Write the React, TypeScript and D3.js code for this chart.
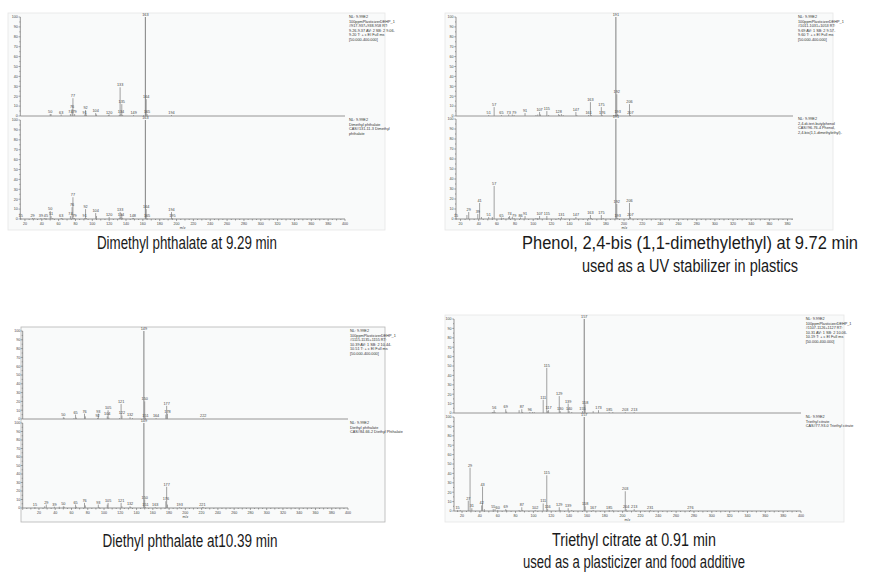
import React from "react";
import * as d3 from "d3";

type Peak = [number, number];

// ---- Dimethyl phthalate (sample / library) ----
const dmpSample: Peak[] = [
  [50, 2], [51, 2], [63, 1.5], [74, 2], [76, 7], [77, 18], [79, 2], [91, 1.5], [92, 6], [93, 1.5],
  [104, 3], [105, 1.5], [119, 1], [120, 1.5], [132, 1], [133, 29], [134, 2], [135, 12], [136, 1],
  [149, 1], [161, 1], [163, 100], [164, 17], [165, 2], [194, 1],
];
const dmpLibrary: Peak[] = [
  [15, 1], [29, 1], [31, 1], [39, 1], [43, 1], [45, 1], [50, 8], [51, 3], [53, 1], [63, 1], [64, 1],
  [74, 3], [76, 12], [77, 22], [78, 1], [79, 1], [91, 1], [92, 10], [93, 1], [104, 6], [105, 3],
  [120, 2], [132, 1], [133, 7], [134, 2], [135, 5], [136, 1], [148, 1], [149, 1], [163, 100],
  [164, 10], [165, 1], [194, 7], [195, 1],
];

// ---- Phenol, 2,4-bis(1,1-dimethylethyl) ----
const phenolSample: Peak[] = [
  [51, 1], [57, 9], [65, 1], [73, 1.5], [77, 1.5], [79, 1], [91, 3], [103, 1], [105, 1.5], [107, 4],
  [108, 1.5], [115, 5], [117, 1], [128, 2], [129, 1], [131, 2], [133, 1], [147, 4], [148, 1],
  [161, 1], [163, 14], [164, 1], [175, 9], [176, 1], [189, 1], [191, 100], [192, 22], [193, 2],
  [206, 12], [207, 1],
];
const phenolLibrary: Peak[] = [
  [15, 1], [27, 4], [29, 7], [39, 5], [41, 16], [43, 2], [51, 2], [55, 2], [57, 33], [65, 1.5],
  [67, 1], [73, 2], [74, 3], [77, 2], [79, 1], [86, 1.5], [91, 3], [103, 1], [105, 1], [107, 3],
  [115, 3], [128, 1], [131, 2], [147, 2], [161, 1], [163, 4], [164, 1], [175, 4], [177, 1],
  [191, 100], [192, 15], [193, 1], [206, 16], [207, 2],
];

// ---- Diethyl phthalate ----
const depSample: Peak[] = [
  [50, 2], [51, 1.5], [63, 1], [65, 5], [66, 1.5], [76, 6], [77, 3], [92, 1], [93, 6], [104, 3],
  [105, 10], [106, 1.5], [119, 1], [121, 17], [122, 4], [132, 2], [135, 1], [149, 100], [150, 20],
  [151, 1.5], [164, 1], [176, 5], [177, 15], [178, 6], [222, 1],
];
const depLibrary: Peak[] = [
  [15, 1], [27, 2], [29, 4], [39, 1.5], [45, 1.5], [50, 2], [51, 1.5], [65, 4], [66, 1.5], [76, 6],
  [77, 3], [93, 4], [94, 1], [104, 4], [105, 6], [121, 6], [122, 2], [132, 2], [133, 1],
  [149, 100], [150, 10], [151, 1], [163, 1], [176, 8], [177, 25], [178, 4], [193, 1], [221, 1],
  [222, 1],
];

// ---- Triethyl citrate ----
const tecSample: Peak[] = [
  [54, 1], [55, 1], [56, 3], [57, 1], [69, 4], [70, 1.5], [84, 3], [87, 4], [88, 1], [96, 1],
  [99, 1], [101, 1], [111, 14], [115, 48], [116, 2], [117, 3], [129, 18], [130, 2], [139, 10],
  [140, 2], [143, 1], [155, 2], [157, 100], [158, 9], [167, 2], [173, 3], [185, 1], [189, 1],
  [203, 1], [213, 1],
];
const tecLibrary: Peak[] = [
  [15, 1], [18, 1], [27, 11], [29, 46], [31, 3], [42, 6], [43, 26], [45, 2], [55, 2], [57, 2],
  [60, 1], [69, 2], [70, 1], [84, 1], [87, 4], [88, 1], [102, 1], [111, 8], [115, 38], [116, 2],
  [129, 4], [130, 1], [139, 3], [143, 1], [157, 100], [158, 5], [167, 1], [185, 1], [189, 1],
  [203, 21], [204, 2], [213, 2], [231, 1], [276, 1],
];

// ---- Header text blocks ----
const dmpSampleInfo = ["NL: 9.99E2", "100ppmPlasticizerDEHP_1", "#917-937+938-958 RT:", "9.26-9.37 AV: 2 SB: 2 9.06-", "9.20 T: + c EI Full ms", "[50.000-400.000]"];
const dmpLibInfo = ["NL: 9.99E2", "Dimethyl phthalate", "CAS#131-11-3 Dimethyl", "phthalate"];
const phenolSampleInfo = ["NL: 9.99E2", "100ppmPlasticizerDEHP_1", "#1011-1031+1053 RT:", "9.69 AV: 1 SB: 2 9.57-", "9.60 T: + c EI Full ms", "[50.000-400.000]"];
const phenolLibInfo = ["NL: 9.99E2", "2,4-di-tert-butylphenol", "CAS#96-76-4 Phenol,", "2,4-bis(1,1-dimethylethyl)-"];
const depSampleInfo = ["NL: 9.99E2", "100ppmPlasticizerDEHP_1", "#1115-1135+1155 RT:", "10.39 AV: 1 SB: 2 10.44-", "10.51 T: + c EI Full ms", "[50.000-400.000]"];
const depLibInfo = ["NL: 9.99E2", "Diethyl phthalate", "CAS#84-66-2 Diethyl Phthalate"];
const tecSampleInfo = ["NL: 9.99E2", "100ppmPlasticizerDEHP_1", "#1107-1126+1127 RT:", "10.31 AV: 1 SB: 2 10.06-", "10.19 T: + c EI Full ms", "[50.000-400.000]"];
const tecLibInfo = ["NL: 9.99E2", "Triethyl citrate", "CAS#77-93-0 Triethyl citrate"];

// ---- Captions ----
const caption1 = ["Dimethyl phthalate at 9.29 min"];
const caption2 = ["Phenol, 2,4-bis (1,1-dimethylethyl) at 9.72 min", "used as a UV stabilizer in plastics"];
const caption3 = ["Diethyl phthalate at10.39 min"];
const caption4 = ["Triethyl citrate at 0.91 min", "used as a plasticizer and food additive"];

const yTicks = [0, 10, 20, 30, 40, 50, 60, 70, 80, 90, 100];

interface PanelCfg {
  bg: { x: number; y: number; w: number; h: number; stroke: string };
  domain: [number, number];
  xRange: [number, number];
  top: [number, number];
  bot: [number, number];
  textX: number;
  sample: Peak[];
  library: Peak[];
  sampleInfo: string[];
  libInfo: string[];
}

const panels: PanelCfg[] = [
  {
    bg: { x: 8, y: 13, w: 377, h: 217, stroke: "#e6e6e6" },
    domain: [14.5, 400], xRange: [20.3, 345], top: [116, 17], bot: [219, 120], textX: 349,
    sample: dmpSample, library: dmpLibrary, sampleInfo: dmpSampleInfo, libInfo: dmpLibInfo,
  },
  {
    bg: { x: 445, y: 13, w: 388, h: 217, stroke: "#e6e6e6" },
    domain: [15, 386], xRange: [456, 793], top: [116, 17], bot: [219, 119], textX: 798,
    sample: phenolSample, library: phenolLibrary, sampleInfo: phenolSampleInfo, libInfo: phenolLibInfo,
  },
  {
    bg: { x: 21, y: 327, w: 364, h: 195, stroke: "#b5b5b5" },
    domain: [0, 400], xRange: [22.7, 348], top: [419, 331], bot: [508, 423], textX: 350,
    sample: depSample, library: depLibrary, sampleInfo: depSampleInfo, libInfo: depLibInfo,
  },
  {
    bg: { x: 445, y: 315, w: 399, h: 207, stroke: "#e6e6e6" },
    domain: [11, 400], xRange: [454, 801], top: [413, 319], bot: [511, 417], textX: 805.7,
    sample: tecSample, library: tecLibrary, sampleInfo: tecSampleInfo, libInfo: tecLibInfo,
  },
];

const captions = [
  { lines: caption1, cx: 187, y: 249, gap: 23, lens: [180] },
  { lines: caption2, cx: 690, y: 249, gap: 23, lens: [336, 216] },
  { lines: caption3, cx: 190, y: 547, gap: 23, lens: [175] },
  { lines: caption4, cx: 634, y: 546, gap: 22, lens: [164, 222] },
];

const SMALL = "Liberation Sans, Arial, sans-serif";

function Spectrum({ peaks, x, y }: { peaks: Peak[]; x: d3.ScaleLinear<number, number>; y: d3.ScaleLinear<number, number> }) {
  const sorted = [...peaks].sort((a, b) => b[1] - a[1]);
  const boxes: { x0: number; x1: number; y0: number; y1: number }[] = [];
  const labels: { mz: number; lx: number; ly: number }[] = [];
  for (const [mz, v] of sorted) {
    const lx = x(mz);
    const ly = y(v) - 1;
    const w = String(mz).length * 2.1;
    const b = { x0: lx - w / 2, x1: lx + w / 2, y0: ly - 4, y1: ly };
    if (boxes.some((o) => b.x0 < o.x1 && b.x1 > o.x0 && b.y0 < o.y1 && b.y1 > o.y0)) continue;
    boxes.push(b);
    labels.push({ mz, lx, ly });
  }
  return (
    <g>
      {peaks.map(([mz, v]) => (
        <line key={mz} x1={x(mz)} x2={x(mz)} y1={y(0)} y2={y(v)} stroke="#8a8a8a" strokeWidth={v >= 50 ? 1.1 : 0.8} />
      ))}
      {labels.map((l) => (
        <text key={"l" + l.mz} x={l.lx} y={l.ly} fontSize={3.8} fontFamily={SMALL} fill="#444" textAnchor="middle">
          {l.mz}
        </text>
      ))}
    </g>
  );
}

function Panel({ cfg }: { cfg: PanelCfg }) {
  const x = d3.scaleLinear().domain(cfg.domain).range(cfg.xRange);
  const yTop = d3.scaleLinear().domain([0, 100]).range(cfg.top);
  const yBot = d3.scaleLinear().domain([0, 100]).range(cfg.bot);
  const ax = cfg.xRange[0];
  const xEnd = cfg.xRange[1];
  const xMajor = d3.range(20, cfg.domain[1] + 0.1, 20);
  const xMinor = d3.range(Math.ceil(cfg.domain[0] / 5) * 5, cfg.domain[1] + 0.1, 5);
  const yMinor = d3.range(0, 101, 5);
  return (
    <g opacity={0.999}>
      <rect x={cfg.bg.x} y={cfg.bg.y} width={cfg.bg.w} height={cfg.bg.h} fill="#f9fafa" stroke={cfg.bg.stroke} strokeWidth={0.8} />
      {[yTop, yBot].map((ys, i) => (
        <g key={i}>
          <line x1={ax} x2={ax} y1={ys(0)} y2={ys(100)} stroke="#555" strokeWidth={0.6} />
          {yMinor.map((t) => (
            <line key={t} x1={ax - (t % 10 === 0 ? 1.8 : 1)} x2={ax} y1={ys(t)} y2={ys(t)} stroke="#555" strokeWidth={0.5} />
          ))}
          {yTicks.map((t) => (
            <text key={"t" + t} x={ax - 2.5} y={ys(t) + 1.3} fontSize={3.6} fontFamily={SMALL} fill="#444" textAnchor="end">
              {t}
            </text>
          ))}
        </g>
      ))}
      <line x1={ax} x2={xEnd} y1={yTop(0)} y2={yTop(0)} stroke="#8a8a8a" strokeWidth={0.9} />
      <line x1={ax} x2={xEnd} y1={yBot(0)} y2={yBot(0)} stroke="#777" strokeWidth={0.8} />
      {xMinor.map((t) => (
        <line key={"m" + t} x1={x(t)} x2={x(t)} y1={yBot(0)} y2={yBot(0) + (t % 20 === 0 ? 2 : t % 10 === 0 ? 1.5 : 1)} stroke="#555" strokeWidth={0.5} />
      ))}
      {xMajor.map((t) => (
        <text key={"x" + t} x={x(t)} y={yBot(0) + 6} fontSize={3.6} fontFamily={SMALL} fill="#444" textAnchor="middle">
          {t}
        </text>
      ))}
      <text x={(ax + xEnd) / 2} y={yBot(0) + 10} fontSize={3.6} fontFamily={SMALL} fill="#444" textAnchor="middle">
        m/z
      </text>
      <Spectrum peaks={cfg.sample} x={x} y={yTop} />
      <Spectrum peaks={cfg.library} x={x} y={yBot} />
      {cfg.sampleInfo.map((s, i) => (
        <text key={"s" + i} x={cfg.textX} y={yTop(100) + 1 + i * 4.6} fontSize={3.8} fontFamily={SMALL} fill="#333">
          {s}
        </text>
      ))}
      {cfg.libInfo.map((s, i) => (
        <text key={"b" + i} x={cfg.textX} y={yBot(100) + 1 + i * 4.6} fontSize={3.8} fontFamily={SMALL} fill="#333">
          {s}
        </text>
      ))}
    </g>
  );
}

export default function App() {
  return (
    <svg width={882} height={572} viewBox="0 0 882 572" style={{ position: "absolute", left: 0, top: 0, background: "#fff" }}>
      <rect x={0} y={0} width={882} height={572} fill="#fff" />
      {panels.map((p, i) => (
        <Panel key={i} cfg={p} />
      ))}
      {captions.map((c, i) =>
        c.lines.map((line, j) => (
          <text
            key={i + "-" + j}
            x={c.cx}
            y={c.y + j * c.gap}
            fontSize={17.5}
            fontFamily="Liberation Sans Narrow, Liberation Sans, Arial, sans-serif"
            fill="#1a1a1a"
            textAnchor="middle"
            textLength={c.lens[j]}
            lengthAdjust="spacingAndGlyphs"
          >
            {line}
          </text>
        ))
      )}
    </svg>
  );
}
